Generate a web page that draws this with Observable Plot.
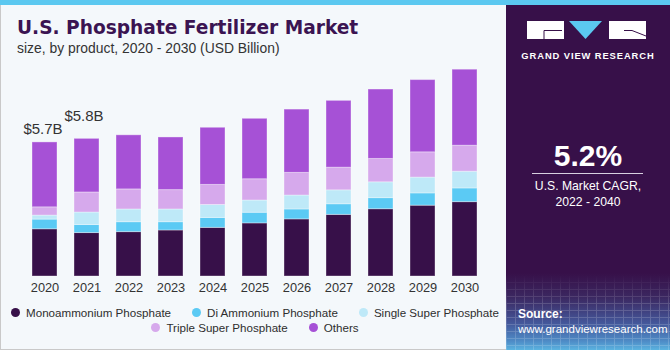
<!DOCTYPE html>
<html>
<head>
<meta charset="utf-8">
<script src="https://cdn.jsdelivr.net/npm/d3@7"></script>
<script src="https://cdn.jsdelivr.net/npm/@observablehq/plot@0.6"></script>
<style>
  html, body { margin: 0; padding: 0; background: #ffffff; }
  #wrap { position: relative; width: 670px; height: 350px; overflow: hidden; background: #f4f8fb;
          font-family: "Liberation Sans", Arial, sans-serif; color: #333; }
  #stripe { position: absolute; left: 0; top: 0; width: 670px; height: 5px; background: #5bc8f0; }
  #lborder { position: absolute; left: 0; top: 5px; width: 1px; height: 345px; background: #c9c9c9; }
  #bborder { position: absolute; left: 0; top: 349px; width: 506px; height: 1px; background: #c9c9c9; }
  #title { position: absolute; left: 17px; top: 17px; font-family: "DejaVu Sans", sans-serif; font-weight: bold;
           font-size: 18.6px; color: #3b1452; white-space: nowrap; line-height: 22px; }
  #subtitle { position: absolute; left: 17px; top: 40px; font-size: 13.9px; color: #333; white-space: nowrap; line-height: 17px; }
  #chart { position: absolute; left: 0; top: 60px; }
  #legend { position: absolute; left: 2px; top: 305px; width: 506px; display: flex; flex-wrap: wrap; justify-content: center;
            column-gap: 21px; row-gap: 0px; font-size: 11.6px; line-height: 15px; color: #2e2e2e; }
  .item { display: flex; align-items: center; white-space: nowrap; }
  .dot { width: 9px; height: 9px; border-radius: 50%; margin-right: 6px; }
  #panel { position: absolute; left: 506px; top: 5px; width: 164px; height: 345px;
           background: linear-gradient(to bottom, #371049 0px, #371049 268px, #3b2760 292px, #44579a 318px, #4e8bc6 336px, #5bb3e0 345px); }
  #grid { position: absolute; left: 0; top: 270px; width: 164px; height: 75px; opacity: 0.18;
          background-image: repeating-linear-gradient(to right, rgba(255,255,255,0.9) 0 1px, transparent 1px 9px),
                            repeating-linear-gradient(to bottom, rgba(255,255,255,0.9) 0 1px, transparent 1px 7px);
          -webkit-mask-image: linear-gradient(to bottom, transparent 0, black 30px); mask-image: linear-gradient(to bottom, transparent 0, black 30px); }
  #gvr { position: absolute; left: 0; top: 45px; width: 164px; text-align: center; color: #fff; font-weight: bold;
         font-size: 9.4px; letter-spacing: 0.9px; line-height: 12px; }
  #cagr { position: absolute; left: 0; top: 134px; width: 164px; text-align: center; color: #fff; font-weight: bold;
          font-size: 30px; line-height: 34px; }
  #cagrline { position: absolute; left: 26px; top: 168px; width: 111px; height: 1px; background: #d8d0e0; }
  #cagrtxt { position: absolute; left: 0; top: 173px; width: 164px; text-align: center; color: #fff; font-size: 12.2px; line-height: 16px; }
  #source { position: absolute; left: 12px; top: 302px; color: #fff; font-size: 11.5px; line-height: 15px; }
  #source b { font-size: 12px; }
</style>
</head>
<body>
<div id="wrap">
  <div id="stripe"></div>
  <div id="lborder"></div>
  <div id="bborder"></div>
  <div id="title">U.S. Phosphate Fertilizer Market</div>
  <div id="subtitle">size, by product, 2020 - 2030 (USD Billion)</div>
  <div id="chart"></div>
  <div id="legend"></div>
  <div id="panel">
    <div id="grid"></div>
    <svg width="164" height="40" style="position:absolute;left:0;top:0">
      <rect x="21" y="16" width="37" height="18" fill="#ffffff"/>
      <path d="M38 25.5 H56 M38 25.5 V34" stroke="#371049" stroke-width="1" fill="none"/>
      <polygon points="63,16 96,16 79.5,34" fill="#5bc8f0"/>
      <rect x="103" y="16" width="37" height="18" fill="#ffffff"/>
      <path d="M118 25.5 H126 L140 31" stroke="#371049" stroke-width="1" fill="none"/>
    </svg>
    <div id="gvr">GRAND VIEW RESEARCH</div>
    <div id="cagr">5.2%</div>
    <div id="cagrline"></div>
    <div id="cagrtxt">U.S. Market CAGR,<br>2022 - 2040</div>
    <div id="source"><b>Source:</b><br>www.grandviewresearch.com</div>
  </div>
</div>
<script>
const years = ["2020","2021","2022","2023","2024","2025","2026","2027","2028","2029","2030"];
const series = ["Monoammonium Phosphate","Di Ammonium Phosphate","Single Super Phosphate","Triple Super Phosphate","Others"];
const colors = ["#371049","#5bcaf4","#bee9f8","#d6a9ec","#a651d6"];

const mono   = [2.00,1.84,1.88,1.95,2.06,2.25,2.42,2.61,2.85,3.00,3.15];
const di     = [0.41,0.34,0.42,0.35,0.42,0.45,0.42,0.45,0.47,0.52,0.58];
const single = [0.17,0.53,0.54,0.54,0.55,0.52,0.59,0.59,0.67,0.67,0.71];
const triple = [0.35,0.85,0.85,0.82,0.85,0.90,0.96,0.96,0.99,1.07,1.10];
const others = [2.75,2.27,2.29,2.23,2.42,2.56,2.68,2.83,2.94,3.06,3.22];

const labelYears = ["2020","2021"];
const labelTexts = ["$5.7B","$5.8B"];

const valuesBySeries = [mono, di, single, triple, others];
const rows = series.flatMap((s, i) => years.map((y, j) => ({year: y, series: s, value: valuesBySeries[i][j]})));
const totals = years.map((y, j) => ({year: y, total: d3.sum(valuesBySeries, v => v[j])}));
const ann = labelYears.map((y, k) => ({year: y, label: labelTexts[k], total: totals.find(t => t.year === y).total}));

const chart = Plot.plot({
  width: 500,
  height: 240,
  marginTop: 0,
  marginBottom: 24,
  marginLeft: 15,
  marginRight: 6,
  style: {background: "transparent", fontFamily: "'Liberation Sans', Arial, sans-serif", fontSize: "12.8px", color: "#333"},
  x: {domain: years, padding: 0.4, label: null, tickSize: 0, tickPadding: 6},
  y: {domain: [0, 9.15], axis: null},
  color: {domain: series, range: colors},
  marks: [
    Plot.barY(rows, {x: "year", y: "value", fill: "series", order: series, stroke: "#ffffff", strokeOpacity: 0.35, strokeWidth: 1}),
    Plot.text(ann.slice(0, 1), {x: "year", y: "total", text: "label", dy: -13.5, dx: -2, fontSize: 15, fill: "#333"}),
    Plot.text(ann.slice(1, 2), {x: "year", y: "total", text: "label", dy: -22.5, dx: -3, fontSize: 15, fill: "#333"})
  ]
});
document.getElementById("chart").appendChild(chart);

const legend = document.getElementById("legend");
series.forEach((s, i) => {
  const item = document.createElement("div");
  item.className = "item";
  const dot = document.createElement("span");
  dot.className = "dot";
  dot.style.background = colors[i];
  const label = document.createElement("span");
  label.textContent = s;
  item.appendChild(dot);
  item.appendChild(label);
  legend.appendChild(item);
});
</script>
</body>
</html>
